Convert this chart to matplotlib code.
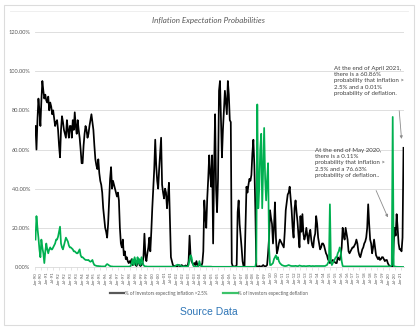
import matplotlib
matplotlib.use("Agg")
import matplotlib.pyplot as plt
from matplotlib.lines import Line2D
from matplotlib.patches import Rectangle
import numpy as np

# monthly values, Jan-1990 .. Apr-2021 (percent)
inflation = [
    72, 60, 75, 86, 80, 72, 85, 95, 90, 86, 88, 85,          # 1990
    84, 87, 80, 84, 82, 78, 80, 76, 72, 74, 75, 70,          # 1991
    62, 56, 70, 77, 74, 70, 68, 66, 75, 70, 66, 72,          # 1992
    72, 66, 75, 70, 79, 72, 68, 75, 70, 66, 60, 53,          # 1993
    53, 62, 68, 72, 70, 66, 68, 72, 75, 78, 74, 70,          # 1994
    62, 55, 52, 50, 55, 48, 44, 42, 38, 30, 25, 20,          # 1995
    18, 15, 22, 34, 45, 51, 40, 44, 42, 40, 38, 36,          # 1996
    38, 34, 20, 12, 10, 14, 6, 8, 4, 5, 3, 2,                # 1997
    3, 2, 4, 1, 2, 3, 1, 0.5, 2, 4, 1, 0.5,                  # 1998
    1, 2, 5, 17, 6, 3, 7, 10, 15, 8, 18, 30,                 # 1999
    40, 50, 65, 52, 44, 40, 50, 58, 66, 42, 38, 35,          # 2000
    40, 38, 30, 36, 43, 25, 5, 3, 1, 0.5, 0.5, 0.3,          # 2001
    0.3, 0.5, 1, 0.5, 0.3, 1, 0.5, 0.3, 0.5, 0.8, 0.5, 0.3,  # 2002
    3, 16, 6, 3, 2, 1, 2, 1, 3, 1, 0.5, 1,                   # 2003
    1, 0.5, 2, 8, 34, 26, 20, 35, 45, 57, 48, 41,            # 2004
    57, 12, 50, 78, 40, 28, 45, 90, 95, 75, 56, 70,          # 2005
    80, 90, 84, 78, 95, 88, 75, 74, 2, 0.3, 0.2, 0.3,        # 2006
    0.3, 1, 28, 34, 22, 16, 10, 3, 0.3, 0.5, 20, 41,         # 2007
    38, 42, 45, 44, 47, 58, 65, 52, 30, 0.5, 0.3, 0.2,       # 2008
    0.5, 0.3, 0.2, 0.5, 1, 0.5, 0.3, 0.5, 1, 7, 15, 29,      # 2009
    25, 22, 12, 20, 33, 15, 7, 9, 12, 14, 13, 12,            # 2010
    11, 10, 18, 29, 33, 37, 38, 41, 35, 29, 20, 15,          # 2011
    30, 34, 28, 23, 16, 10, 26, 18, 27, 17, 14, 16,          # 2012
    20, 16, 12, 17, 19, 14, 11, 10, 15, 17, 26, 22,          # 2013
    15, 12, 9, 10, 12, 12, 11, 9, 7, 6, 4, 3,                # 2014
    2, 2.5, 3, 3.6, 3, 2.5, 2, 2, 5, 4, 3.6, 6,              # 2015
    10, 20, 16, 14, 20, 17, 14, 8, 7, 8, 9, 10,              # 2016
    10, 11, 12, 14, 12, 8, 6, 5, 7, 9, 10, 12,               # 2017
    13, 15, 20, 32, 22, 14, 12, 7, 10, 14, 10, 6,            # 2018
    5, 4, 5, 3.6, 4, 5, 5, 4, 3, 3.5, 3.6, 2,                # 2019
    1, 0.5, 0.2, 0.1, 0.11, 12, 20, 16, 27, 20, 12, 9,       # 2020
    9, 8, 15, 60.86,                                         # 2021
]

deflation = [
    14, 26, 20, 15, 9, 5, 14, 10, 7, 2, 8, 12,               # 1990
    9, 7, 9, 10, 9, 9, 10, 11, 12, 14, 14, 15.5,             # 1991
    18, 20.6, 12, 10, 9, 11, 13, 15, 14, 13, 11, 10,         # 1992
    10, 9.5, 9, 8, 8, 7.5, 7, 7, 8, 9, 6, 5,                 # 1993
    5, 4.5, 4, 3.6, 3.6, 3.5, 3.6, 3, 2.7, 3, 3.6, 2,        # 1994
    1, 0.8, 0.6, 0.5, 0.5, 0.4, 0.4, 0.3, 0.3, 0.3, 0.3, 0.3,  # 1995
    1, 1.5, 1.2, 0.8, 0.5, 0.3, 0.3, 0.2, 0.2, 0.2, 0.2, 0.2,  # 1996
    0.2, 0.2, 0.2, 0.2, 0.2, 0.2, 0.2, 0.2, 0.2, 0.2, 0.2, 0.2,  # 1997
    0.3, 0.5, 2, 4, 1, 5, 3, 1, 5, 2, 4, 1,                  # 1998
    5, 3, 1, 0.5, 0.3, 0.3, 0.2, 0.2, 0.2, 0.2, 0.2, 0.2,    # 1999
    0.2, 0.2, 0.2, 0.2, 0.2, 0.2, 0.2, 0.2, 0.2, 0.2, 0.2, 0.2,  # 2000
    0.2, 0.2, 0.2, 0.2, 0.2, 0.2, 0.2, 0.2, 0.2, 0.2, 0.2, 0.8,  # 2001
    1, 1.2, 0.8, 1, 0.6, 0.4, 0.2, 0.2, 0.3, 0.3, 0.2, 0.2,  # 2002
    1, 4, 6, 5, 2, 0.5, 0.3, 0.2, 0.2, 0.3, 0.5, 3,          # 2003
    1, 0.5, 0.3, 0.2, 0.2, 0.2, 0.2, 0.2, 0.2, 0.2, 0.2, 0.2,  # 2004
    0.1, 0.1, 0.1, 0.1, 0.1, 0.1, 0.1, 0.1, 0.1, 0.1, 0.1, 0.1,  # 2005
    0.1, 0.1, 0.1, 0.1, 0.1, 0.1, 0.1, 0.1, 0.1, 0.1, 0.1, 0.1,  # 2006
    0.1, 0.1, 0.1, 0.1, 0.1, 0.1, 0.1, 0.1, 0.1, 0.1, 0.1, 0.1,  # 2007
    0.1, 0.1, 0.1, 0.1, 0.1, 0.1, 0.1, 0.1, 0.1, 3, 83, 30,  # 2008
    40, 60, 68, 30, 50, 71, 45, 34, 45, 53, 10, 1,           # 2009
    1, 1.5, 2, 4, 5, 6, 4, 5, 3, 2, 1.5, 1,                  # 2010
    0.8, 0.6, 0.5, 0.5, 0.6, 0.8, 1, 0.8, 0.6, 0.5, 0.5, 0.5,  # 2011
    0.5, 0.6, 0.5, 0.4, 0.5, 0.8, 0.6, 0.5, 0.4, 0.5, 0.5, 0.4,  # 2012
    0.4, 0.5, 0.5, 0.6, 0.5, 0.4, 0.5, 0.5, 0.4, 0.5, 0.5, 0.5,  # 2013
    0.5, 0.5, 0.5, 0.5, 0.5, 0.5, 0.5, 0.5, 0.8, 1, 2, 3,    # 2014
    32, 3, 1, 2, 3, 4, 5, 5, 7, 8, 10, 8,                    # 2015
    3, 0.5, 0.3, 0.3, 0.3, 0.3, 0.3, 0.3, 0.3, 0.3, 0.3, 0.3,  # 2016
    0.3, 0.3, 0.3, 0.3, 0.3, 0.3, 0.3, 0.3, 0.3, 0.3, 0.3, 0.3,  # 2017
    0.3, 0.3, 0.3, 0.3, 0.3, 0.3, 0.3, 0.3, 0.3, 0.3, 0.3, 0.3,  # 2018
    0.3, 0.3, 0.3, 0.3, 0.3, 0.3, 0.3, 0.3, 0.3, 0.3, 0.3, 0.3,  # 2019
    0.3, 0.3, 0.5, 1, 76.63, 0.5, 0.3, 0.2, 0.1, 0.1, 0.1, 0.1,  # 2020
    0.05, 0.03, 0.02, 0.01,                                  # 2021
]

months = ["Jan", "Jul"]
tick_labels = ["%s-%02d" % (m, y % 100) for y in range(1990, 2022) for m in months][:-1]

label_infl = "% of Investors expecting inflation >2.5%"
label_defl = "% of investors expecting deflation"
title = "Inflation Expectation Probabilities"
note_2021 = ("At the end of April 2021,\nthere is a 60.86%\nprobability that inflation >\n"
             "2.5% and a 0.01%\nprobability of deflation.")
note_2020 = ("At the end of May 2020,\nthere is a 0.11%\nprobability that inflation >\n"
             "2.5% and a 76.63%\nprobability of deflation..")

W, H = 420, 329
plt.rcParams['font.family'] = ['Lato', 'DejaVu Sans']

fig = plt.figure(figsize=(W / 100, H / 100), dpi=100)

# card frame
fig.patches.append(Rectangle((4 / W, 4 / H), 410 / W, 320 / H, transform=fig.transFigure,
                             facecolor='white', edgecolor='#dcdcdc', lw=0.8, zorder=-5))
fig.lines.append(Line2D([10 / W, 408 / W], [1 - 11 / H, 1 - 11 / H], transform=fig.transFigure,
                        color='#ececec', lw=0.6, zorder=-4))

ax = fig.add_axes([35 / W, 1 - 267 / H, 369 / W, 235 / H])
ax.set_zorder(2)
ax.patch.set_alpha(0)

x = np.arange(len(inflation))
ax.plot(x, inflation, color='black', lw=1.25, zorder=3)
ax.plot(x, deflation, color='#00b050', lw=1.25, zorder=4)

ax.set_xlim(-0.5, len(inflation) - 0.5)
ax.set_ylim(0, 120)
ax.set_yticks(np.arange(0, 121, 20))
ax.set_yticklabels(["%.2f%%" % v for v in np.arange(0, 121, 20)])
ax.set_xticks(np.arange(0, len(inflation), 6))
ax.set_xticklabels(tick_labels, rotation=90)
ax.tick_params(axis='y', length=0, labelsize=4.1, labelcolor='#595959', pad=3.5)
ax.tick_params(axis='x', length=2, width=0.5, color='#d9d9d9', labelsize=3.1,
               labelcolor='#595959', pad=1.5)
ax.grid(axis='y', color='#d9d9d9', lw=0.6)
ax.set_axisbelow(True)
for s in ['top', 'right', 'left']:
    ax.spines[s].set_visible(False)
ax.spines['bottom'].set_color('#d9d9d9')
ax.spines['bottom'].set_linewidth(0.6)

fig.text(208 / W, 1 - 20 / H, title, style='italic', fontsize=5.8, color='#595959',
         ha='center', va='center')

handles = [Line2D([], [], color='#595959', lw=1.6), Line2D([], [], color='#3cc36a', lw=1.6)]
fig.legend(handles, [label_infl, label_defl], loc='center', bbox_to_anchor=(209 / W, 1 - 293 / H),
           ncol=2, frameon=False, fontsize=3.3, handlelength=3.2, handletextpad=0.1,
           columnspacing=3.5, labelcolor='#595959')

fig.text(209 / W, 1 - 312 / H, "Source Data", color='#2e75b6', fontsize=7.5,
         family='Liberation Sans', ha='center', va='center')

fig.text(334 / W, 1 - 66 / H, note_2021, fontsize=4.4, color='#404040', ha='left', va='top',
         linespacing=1.3)
fig.text(315 / W, 1 - 148 / H, note_2020, fontsize=4.4, color='#404040', ha='left', va='top',
         linespacing=1.3)

arrow = dict(arrowstyle='-|>', color='#8c8c8c', lw=0.6, mutation_scale=4)
ax.annotate('', xy=(373.2, 64), xytext=(399 / W, 1 - 108 / H), textcoords='figure fraction',
            arrowprops=arrow)
ax.annotate('', xy=(360.2, 24), xytext=(375 / W, 1 - 188 / H), textcoords='figure fraction',
            arrowprops=arrow)

fig.savefig("out.png", dpi=100)
